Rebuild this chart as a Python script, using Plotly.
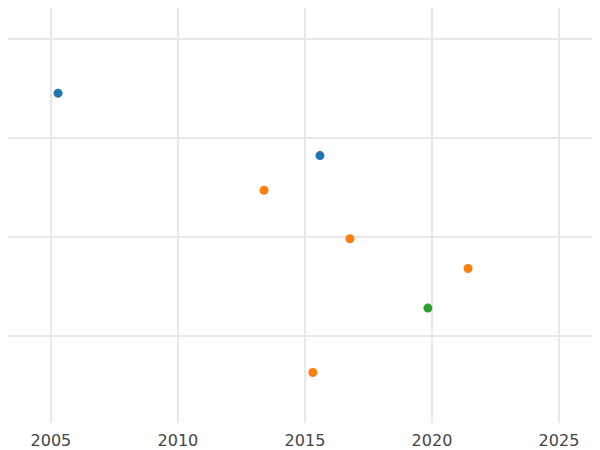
import plotly.graph_objects as go

blue_x = [2005.28, 2015.59]
blue_y = [3.45, 2.82]
orange_x = [2013.39, 2016.77, 2021.42, 2015.31]
orange_y = [2.47, 1.98, 1.68, 0.63]
green_x = [2019.84]
green_y = [1.28]

fig = go.Figure()
for xs, ys, c in [(blue_x, blue_y, "#1f77b4"), (orange_x, orange_y, "#ff7f0e"), (green_x, green_y, "#2ca02c")]:
    fig.add_trace(go.Scatter(x=xs, y=ys, mode="markers", marker=dict(color=c, size=9), showlegend=False))

fig.update_layout(
    width=600, height=450,
    margin=dict(l=0, r=0, t=0, b=35, autoexpand=False),
    plot_bgcolor="white", paper_bgcolor="white",
    font=dict(family="DejaVu Sans", size=16, color="#444"),
    xaxis=dict(range=[2003.31, 2026.93], tickvals=[2005, 2010, 2015, 2020, 2025],
               showgrid=True, gridcolor="#e8e8e8", gridwidth=2, zeroline=False, ticks="",
               ticklabelstandoff=6),
    yaxis=dict(range=[0.12, 4.31], tickvals=[1, 2, 3, 4], showticklabels=False,
               showgrid=True, gridcolor="#e8e8e8", gridwidth=1.5, zeroline=False),
)
fig.write_html("out.html")
